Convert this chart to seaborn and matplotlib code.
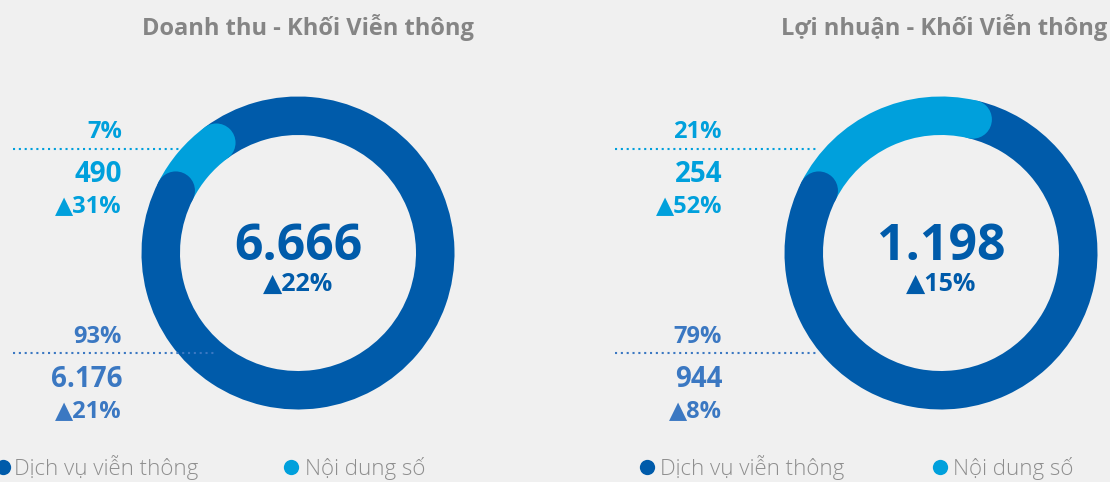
import numpy as np
import matplotlib
matplotlib.use("Agg")
import matplotlib.pyplot as plt
import seaborn as sns
from matplotlib.patches import Circle

sns.set_theme(style="white")
plt.rcParams['font.family'] = ['Open Sans', 'DejaVu Sans']

# ---- data -------------------------------------------------------------
titles = ["Doanh thu - Khối Viễn thông", "Lợi nhuận - Khối Viễn thông"]
segments = ["Dịch vụ viễn thông", "Nội dung số"]
telecom_values = [6176, 944]
digital_values = [490, 254]
totals = [6666, 1198]
telecom_share = [93, 79]
digital_share = [7, 21]
telecom_growth = [21, 8]
digital_growth = [31, 52]
total_growth = [22, 15]

# ---- style ------------------------------------------------------------
BG = "#F0F0F0"
DARK = "#005BAA"
LIGHT = "#00A0DC"
MID = "#3B78C2"
GREY = "#858585"
LEGEND_GREY = "#8E8E8E"

W, H = 1110, 482
DPI = 100


def Y(py):
    return H - py


def fmt(v):
    return f"{v:,}".replace(",", ".")


fig = plt.figure(figsize=(W / DPI, H / DPI), dpi=DPI, facecolor=BG)
ax = fig.add_axes([0, 0, 1, 1])
ax.set_facecolor(BG)

centers_x = [298, 941]
center_y = 253
R = 156.5
RING = 38.5
START = 153            # angle where the digital segment begins (deg)
label_x = [122, 722]
title_pos = [(308, "center"), (1107, "right")]
line_start = [13, 615]
line_end_top = [180, 818]
line_end_bottom = [217, 818]
legend_dot_x = [[3, 291], [647, 940]]
legend_text_x = [[14, 305], [660, 953]]
DOTS = (0, (1, 1.8))

for i, cx in enumerate(centers_x):
    cy = Y(center_y)
    wedges, _ = ax.pie(
        [digital_values[i], telecom_values[i]],
        colors=[LIGHT, DARK],
        startangle=START,
        counterclock=False,
        radius=R,
        center=(cx, cy),
        frame=True,
        wedgeprops=dict(width=RING, edgecolor="none", linewidth=0),
    )
    # rounded ends on the digital segment
    rm = R - RING / 2
    light = wedges[0]
    for ang, col in [(light.theta1, LIGHT), (light.theta2, DARK)]:
        a = np.deg2rad(ang)
        ax.add_patch(Circle((cx + rm * np.cos(a), cy + rm * np.sin(a)),
                            RING / 2, facecolor=col, edgecolor="none", zorder=3))

    # title
    tx, tha = title_pos[i]
    ax.text(tx, Y(35), titles[i], ha=tha, va="baseline",
            fontsize=17, fontweight="bold", color=GREY)

    # centre total
    ax.text(cx, Y(260), fmt(totals[i]), ha="center", va="baseline",
            fontsize=36, fontweight="bold", color=DARK)
    ax.text(cx, Y(291), f"▲{total_growth[i]}%", ha="center", va="baseline",
            fontsize=18, fontweight="bold", color=DARK)

    # digital segment labels (upper)
    lx = label_x[i]
    ax.text(lx, Y(138), f"{digital_share[i]}%", ha="right", va="baseline",
            fontsize=17, fontweight="bold", color=LIGHT)
    ax.plot([line_start[i], line_end_top[i]], [Y(149), Y(149)],
            color=LIGHT, lw=1.5, linestyle=DOTS, zorder=4)
    ax.text(lx, Y(182), fmt(digital_values[i]), ha="right", va="baseline",
            fontsize=20, fontweight="bold", color=LIGHT)
    ax.text(lx, Y(212), f"▲{digital_growth[i]}%", ha="right", va="baseline",
            fontsize=17, fontweight="bold", color=LIGHT)

    # telecom service labels (lower)
    ax.text(lx, Y(343), f"{telecom_share[i]}%", ha="right", va="baseline",
            fontsize=17, fontweight="bold", color=MID)
    ax.plot([line_start[i], line_end_bottom[i]], [Y(353), Y(353)],
            color=MID, lw=1.5, linestyle=DOTS, zorder=4)
    ax.text(lx, Y(387), fmt(telecom_values[i]), ha="right", va="baseline",
            fontsize=20, fontweight="bold", color=MID)
    ax.text(lx, Y(417), f"▲{telecom_growth[i]}%", ha="right", va="baseline",
            fontsize=17, fontweight="bold", color=MID)

    # legend
    for j, col in enumerate([DARK, LIGHT]):
        ax.plot([legend_dot_x[i][j]], [Y(467)], "o", ms=11, color=col,
                markeredgewidth=0, clip_on=False)
        ax.text(legend_text_x[i][j], Y(475), segments[j], ha="left",
                va="baseline", fontsize=16, fontweight="light", color=LEGEND_GREY)

ax.set_xlim(0, W)
ax.set_ylim(0, H)
ax.set_aspect("equal")
ax.axis("off")

fig.savefig("out.png", dpi=DPI, facecolor=BG)
